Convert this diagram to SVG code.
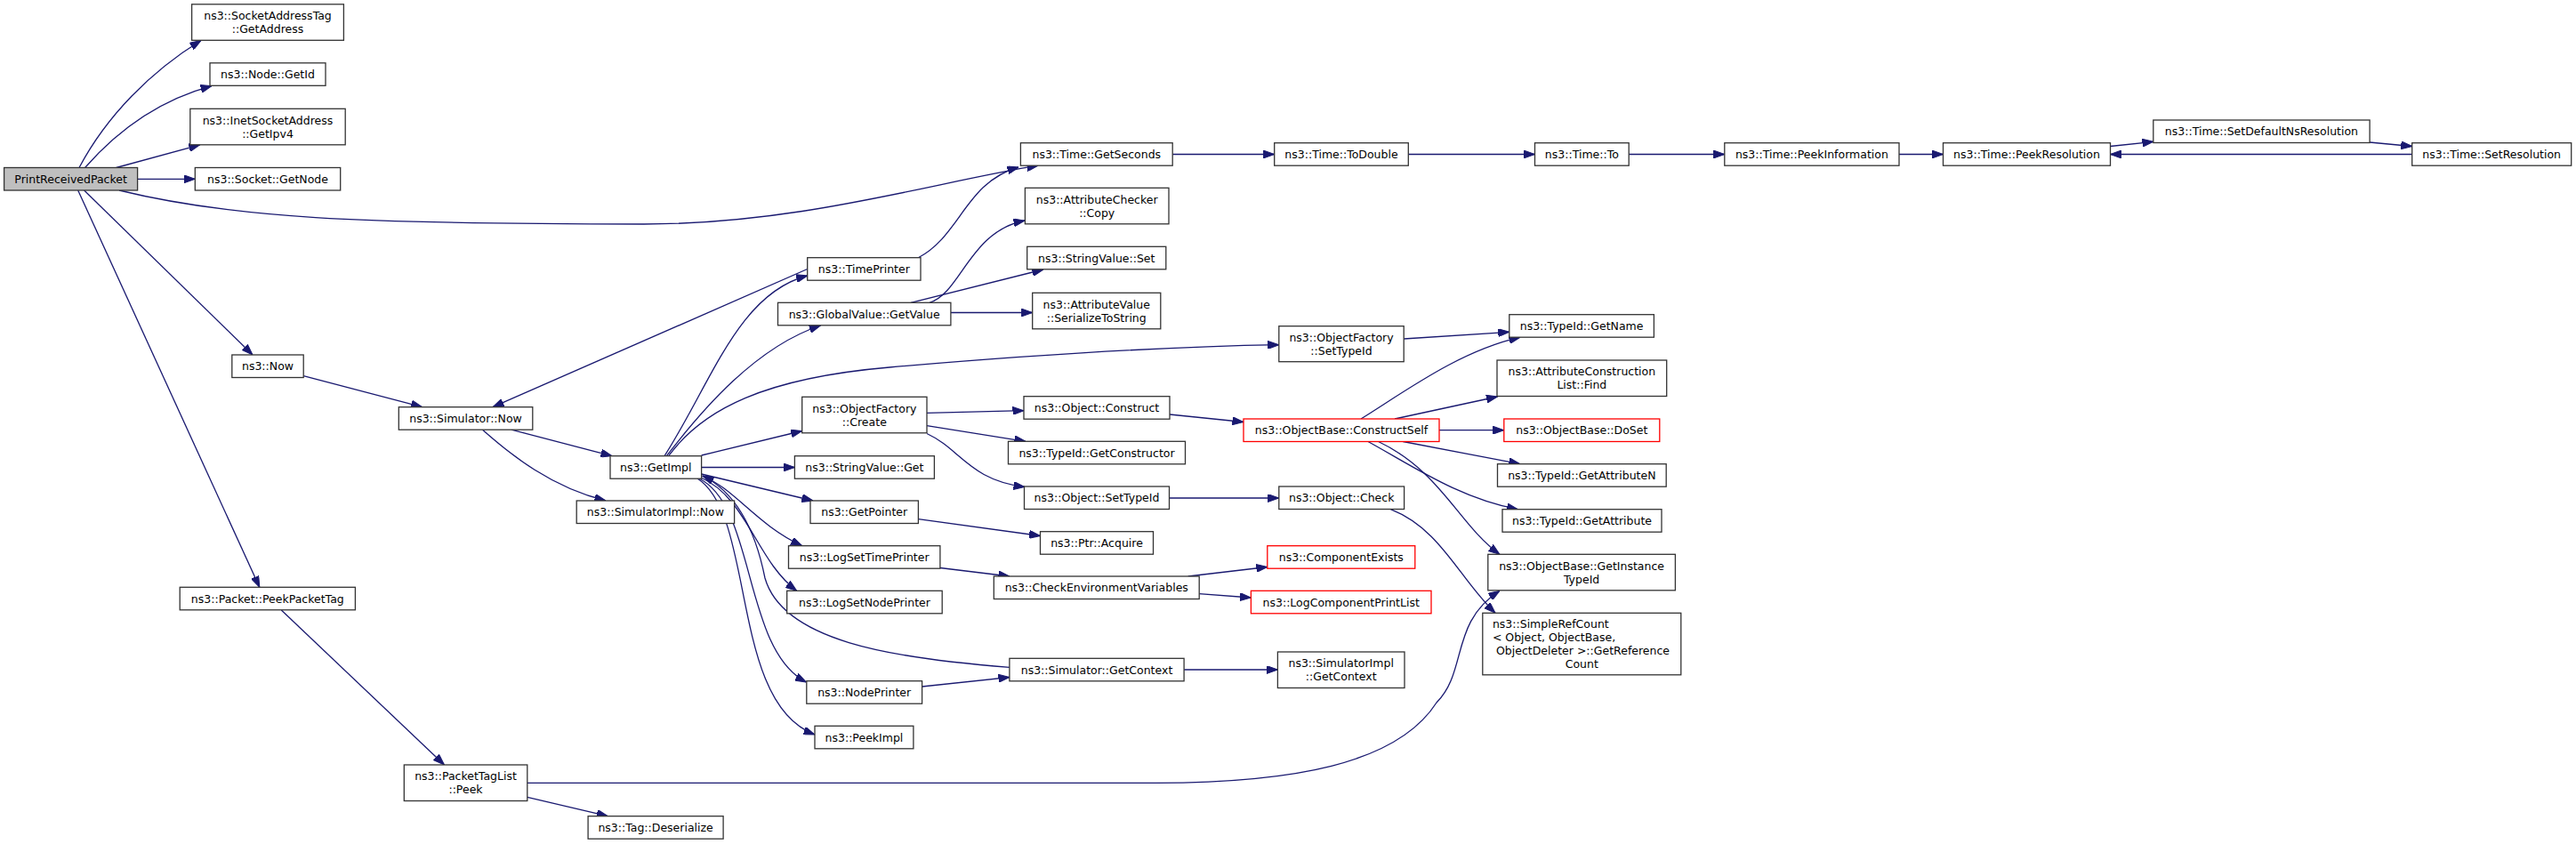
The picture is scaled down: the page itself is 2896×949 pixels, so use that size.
<svg xmlns="http://www.w3.org/2000/svg" width="2896" height="949" viewBox="0 0 2896 949">
<defs>
<marker id="ah" viewBox="0 0 12.5 9" refX="12.5" refY="4.5" markerWidth="12.5" markerHeight="9" markerUnits="userSpaceOnUse" orient="auto">
<path d="M0,0 L12.5,4.5 L0,9 z" fill="#191970" stroke="#191970" stroke-width="1"/>
</marker>
<style>
rect{fill:#fff;stroke:#333;stroke-width:1.3}
rect.r{stroke:#ff0000}
rect.g{fill:#bfbfbf}
text{font-family:"DejaVu Sans","Liberation Sans",sans-serif;font-size:12.5px;fill:#000;text-anchor:middle}
text.l{text-anchor:start}
#edges path{fill:none;stroke:#191970;stroke-width:1.3;marker-end:url(#ah)}
</style>
</defs>
<rect x="0" y="0" width="2896" height="949" style="fill:#fff;stroke:none"/>
<g id="edges">
<path d="M89,188.5 C120,130 170,80 226,45.5"/>
<path d="M95.6,188.5 C125,155 170,115 238,96.7"/>
<path d="M130.7,188.5 L224.8,162.8"/>
<path d="M154.7,201.3 L219.3,201.3"/>
<path d="M134,214 C260,245 400,252 724,252 C900,252 1050,205 1167,186.2"/>
<path d="M94.6,214 L284,399"/>
<path d="M87.7,214 L291.8,660.3"/>
<path d="M341.2,422.7 L474.6,457.7"/>
<path d="M907.7,302.5 L554,457.7"/>
<path d="M574.8,483.2 L688,512.7"/>
<path d="M542.5,483.2 C575,512 620,548 681,563"/>
<path d="M747,512.7 C800,430 830,330 907.7,310"/>
<path d="M749.4,512.7 C790,460 850,390 922.5,366"/>
<path d="M751.7,512.7 C790,460 860,425 1000,413 C1150,400 1300,390 1437.8,387.7"/>
<path d="M788.6,512 L901.7,484.5"/>
<path d="M788.6,525.5 L893.4,525.5"/>
<path d="M788.6,533 L914,563"/>
<path d="M788.6,535 C825,548 850,590 901.7,613.7"/>
<path d="M788,537 C840,560 850,630 895.7,664.3"/>
<path d="M786,538 C850,570 835,730 906.4,767"/>
<path d="M784,538 C850,580 820,790 916,826"/>
<path d="M1134.9,750.3 C1000,740 880,720 860,650 C850,600 830,555 790,535"/>
<path d="M1068.9,351.5 L1160.7,351.5"/>
<path d="M1024,340.3 L1173,303"/>
<path d="M1045,340.3 C1080,330 1090,260 1152,248"/>
<path d="M1032,290 C1080,265 1085,205 1145,188"/>
<path d="M1318.2,173.5 L1432.7,173.5"/>
<path d="M1583.3,173.5 L1725.5,173.5"/>
<path d="M1831.2,173.5 L1938.8,173.5"/>
<path d="M2135,173.5 L2184.5,173.5"/>
<path d="M2372.4,164.5 L2421,159.3"/>
<path d="M2664,160 L2711.7,164.5"/>
<path d="M2711.7,173.5 L2372.4,173.5"/>
<path d="M1042,464.3 L1151,461.7"/>
<path d="M1042,478.7 L1153,496.3"/>
<path d="M1042,487.5 C1080,505 1090,540 1152,547.5"/>
<path d="M1315,466 L1398,474.5"/>
<path d="M1314.5,560 L1437.8,560"/>
<path d="M1032.4,583.7 L1169.5,602.5"/>
<path d="M1578.2,381 L1696.8,373.3"/>
<path d="M1530,471 C1580,440 1640,395 1709,379.2"/>
<path d="M1568,471 L1683.5,446"/>
<path d="M1618,483.7 L1690.8,483.7"/>
<path d="M1577.3,496.5 L1708.8,521.7"/>
<path d="M1538,496.5 C1590,525 1640,560 1706.5,572.7"/>
<path d="M1549.6,496.5 C1620,530 1640,590 1686,623.3"/>
<path d="M1563.4,572.7 C1620,595 1640,650 1681,689.3"/>
<path d="M592.8,880.3 L1300,880.3 C1450,880 1570,860 1615,790 C1650,755 1630,700 1686,664.3"/>
<path d="M316.3,686 L499.5,860"/>
<path d="M592.8,896.3 L683.3,917.7"/>
<path d="M1056.9,638.5 L1135,648"/>
<path d="M1335.7,648 L1424.8,637.5"/>
<path d="M1348.2,667.7 L1406.4,672"/>
<path d="M1036.6,772 L1134.9,761.5"/>
<path d="M1331.1,753 L1436.4,753"/>
</g>
<g id="n0"><rect class="g" x="4.6" y="188.5" width="150" height="25.5"/><text x="79.6" y="205.75">PrintReceivedPacket</text></g>
<g id="n1"><rect x="215.6" y="4.8" width="170.8" height="40.5"/><text x="301" y="22.05">ns3::SocketAddressTag</text><text x="301" y="37.05">::GetAddress</text></g>
<g id="n2"><rect x="236" y="70.8" width="130" height="25.5"/><text x="301" y="88.05">ns3::Node::GetId</text></g>
<g id="n3"><rect x="213.8" y="122.3" width="174.4" height="40.5"/><text x="301" y="139.55">ns3::InetSocketAddress</text><text x="301" y="154.55">::GetIpv4</text></g>
<g id="n4"><rect x="219.3" y="188.5" width="163.4" height="25.5"/><text x="301" y="205.75">ns3::Socket::GetNode</text></g>
<g id="n5"><rect x="260.8" y="399" width="80.4" height="25.5"/><text x="301" y="416.25">ns3::Now</text></g>
<g id="n6"><rect x="202.2" y="660.3" width="197.2" height="25.5"/><text x="300.8" y="677.55">ns3::Packet::PeekPacketTag</text></g>
<g id="n7"><rect x="448.3" y="457.7" width="150.5" height="25.5"/><text x="523.5" y="474.95">ns3::Simulator::Now</text></g>
<g id="n8"><rect x="454.3" y="860" width="138.5" height="40.5"/><text x="523.5" y="877.25">ns3::PacketTagList</text><text x="523.5" y="892.25">::Peek</text></g>
<g id="n9"><rect x="686" y="512.7" width="102.6" height="25.5"/><text x="737.3" y="529.95">ns3::GetImpl</text></g>
<g id="n10"><rect x="648.2" y="563" width="177.4" height="25.5"/><text x="736.9" y="580.25">ns3::SimulatorImpl::Now</text></g>
<g id="n11"><rect x="661.1" y="917.7" width="152" height="25.5"/><text x="737.1" y="934.95">ns3::Tag::Deserialize</text></g>
<g id="n12"><rect x="907.7" y="289.7" width="127.3" height="25.5"/><text x="971.35" y="306.95">ns3::TimePrinter</text></g>
<g id="n13"><rect x="874.5" y="340.3" width="194.4" height="25.5"/><text x="971.7" y="357.55">ns3::GlobalValue::GetValue</text></g>
<g id="n14"><rect x="901.7" y="446.3" width="140.3" height="40.5"/><text x="971.85" y="463.55">ns3::ObjectFactory</text><text x="971.85" y="478.55">::Create</text></g>
<g id="n15"><rect x="893.4" y="512.7" width="157" height="25.5"/><text x="971.9" y="529.95">ns3::StringValue::Get</text></g>
<g id="n16"><rect x="911" y="563" width="121.4" height="25.5"/><text x="971.7" y="580.25">ns3::GetPointer</text></g>
<g id="n17"><rect x="886.5" y="613.7" width="170.4" height="25.5"/><text x="971.7" y="630.95">ns3::LogSetTimePrinter</text></g>
<g id="n18"><rect x="884.7" y="664.3" width="174.5" height="25.5"/><text x="971.95" y="681.55">ns3::LogSetNodePrinter</text></g>
<g id="n19"><rect x="906.8" y="765.7" width="129.8" height="25.5"/><text x="971.7" y="782.95">ns3::NodePrinter</text></g>
<g id="n20"><rect x="916" y="816.3" width="110.9" height="25.5"/><text x="971.45" y="833.55">ns3::PeekImpl</text></g>
<g id="n21"><rect x="1147.4" y="160.7" width="170.8" height="25.5"/><text x="1232.8" y="177.95">ns3::Time::GetSeconds</text></g>
<g id="n22"><rect x="1152.4" y="211.3" width="161.6" height="40.5"/><text x="1233.2" y="228.55">ns3::AttributeChecker</text><text x="1233.2" y="243.55">::Copy</text></g>
<g id="n23"><rect x="1154.7" y="277.3" width="156.1" height="25.5"/><text x="1232.75" y="294.55">ns3::StringValue::Set</text></g>
<g id="n24"><rect x="1160.7" y="329.3" width="144.1" height="40.5"/><text x="1232.75" y="346.55">ns3::AttributeValue</text><text x="1232.75" y="361.55">::SerializeToString</text></g>
<g id="n25"><rect x="1151" y="445.7" width="164" height="25.5"/><text x="1233" y="462.95">ns3::Object::Construct</text></g>
<g id="n26"><rect x="1133.5" y="496.3" width="199" height="25.5"/><text x="1233" y="513.55">ns3::TypeId::GetConstructor</text></g>
<g id="n27"><rect x="1151.5" y="547" width="163" height="25.5"/><text x="1233" y="564.25">ns3::Object::SetTypeId</text></g>
<g id="n28"><rect x="1169.5" y="597.7" width="127" height="25.5"/><text x="1233" y="614.95">ns3::Ptr::Acquire</text></g>
<g id="n29"><rect x="1117.3" y="648" width="230.9" height="25.5"/><text x="1232.75" y="665.25">ns3::CheckEnvironmentVariables</text></g>
<g id="n30"><rect x="1134.9" y="740.3" width="196.2" height="25.5"/><text x="1233" y="757.55">ns3::Simulator::GetContext</text></g>
<g id="n31"><rect x="1432.7" y="160.7" width="150.6" height="25.5"/><text x="1508" y="177.95">ns3::Time::ToDouble</text></g>
<g id="n32"><rect x="1437.8" y="366.7" width="140.4" height="40"/><text x="1508" y="383.7">ns3::ObjectFactory</text><text x="1508" y="398.7">::SetTypeId</text></g>
<g id="n33"><rect class="r" x="1398" y="471" width="220" height="25.5"/><text x="1508" y="488.25">ns3::ObjectBase::ConstructSelf</text></g>
<g id="n34"><rect x="1437.8" y="547" width="140.8" height="25.5"/><text x="1508.2" y="564.25">ns3::Object::Check</text></g>
<g id="n35"><rect class="r" x="1424.8" y="613.7" width="166" height="25.5"/><text x="1507.8" y="630.95">ns3::ComponentExists</text></g>
<g id="n36"><rect class="r" x="1406.4" y="664.3" width="202.6" height="25.5"/><text x="1507.7" y="681.55">ns3::LogComponentPrintList</text></g>
<g id="n37"><rect x="1436.4" y="733" width="142.6" height="40.5"/><text x="1507.7" y="750.25">ns3::SimulatorImpl</text><text x="1507.7" y="765.25">::GetContext</text></g>
<g id="n38"><rect x="1725.5" y="160.7" width="105.7" height="25.5"/><text x="1778.35" y="177.95">ns3::Time::To</text></g>
<g id="n39"><rect x="1696.8" y="353.7" width="162.6" height="25.5"/><text x="1778.1" y="370.95">ns3::TypeId::GetName</text></g>
<g id="n40"><rect x="1683" y="405" width="190.7" height="40.5"/><text x="1778.35" y="422.25">ns3::AttributeConstruction</text><text x="1778.35" y="437.25">List::Find</text></g>
<g id="n41"><rect class="r" x="1690.8" y="471" width="175" height="25.5"/><text x="1778.3" y="488.25">ns3::ObjectBase::DoSet</text></g>
<g id="n42"><rect x="1683.5" y="521.7" width="189.7" height="25.5"/><text x="1778.35" y="538.95">ns3::TypeId::GetAttributeN</text></g>
<g id="n43"><rect x="1689" y="572.7" width="179" height="25.5"/><text x="1778.5" y="589.95">ns3::TypeId::GetAttribute</text></g>
<g id="n44"><rect x="1672.8" y="623.3" width="210.6" height="40.5"/><text x="1778.1" y="640.55">ns3::ObjectBase::GetInstance</text><text x="1778.1" y="655.55">TypeId</text></g>
<g id="n45"><rect x="1666.8" y="689.3" width="223" height="69.5"/><text class="l" x="1677.9" y="705.5">ns3::SimpleRefCount</text><text class="l" x="1677.9" y="720.5">&lt; Object, ObjectBase,</text><text class="l" x="1682" y="735.5">ObjectDeleter &gt;::GetReference</text><text x="1778.3" y="750.5">Count</text></g>
<g id="n46"><rect x="1938.8" y="160.7" width="196.2" height="25.5"/><text x="2036.9" y="177.95">ns3::Time::PeekInformation</text></g>
<g id="n47"><rect x="2184.5" y="160.7" width="188" height="25.5"/><text x="2278.5" y="177.95">ns3::Time::PeekResolution</text></g>
<g id="n48"><rect x="2420.8" y="135" width="243.3" height="25.5"/><text x="2542.45" y="152.25">ns3::Time::SetDefaultNsResolution</text></g>
<g id="n49"><rect x="2711.7" y="160.7" width="179" height="25.5"/><text x="2801.2" y="177.95">ns3::Time::SetResolution</text></g>
</svg>
